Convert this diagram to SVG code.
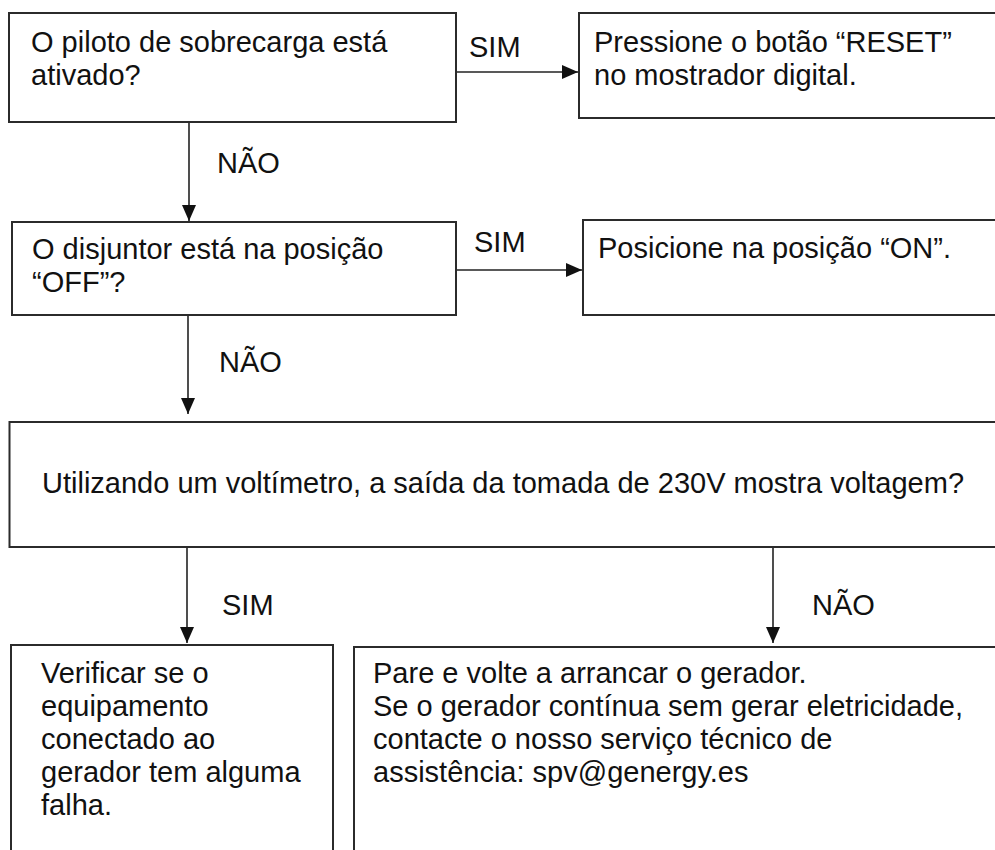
<svg xmlns="http://www.w3.org/2000/svg" width="995" height="850" viewBox="0 0 995 850">
<defs>
<style>
.box{fill:#fff;stroke:#2b2b2b;stroke-width:2}
.t{font-family:"Liberation Sans",Arial,sans-serif;font-size:29px;fill:#111}
.c{stroke:#222;stroke-width:1.6;fill:none}
</style>
<marker id="ah" viewBox="0 0 16 14" refX="16" refY="7" markerWidth="16" markerHeight="14" markerUnits="userSpaceOnUse" orient="auto">
<path d="M0,0 L16,7 L0,14 Z" fill="#111"/>
</marker>
</defs>
<rect width="995" height="850" fill="#fff"/>
<g id="connectors">
<line class="c" x1="456" y1="72" x2="578" y2="72" marker-end="url(#ah)"/>
<line class="c" x1="189" y1="123" x2="189" y2="221" marker-end="url(#ah)"/>
<line class="c" x1="457" y1="270" x2="582" y2="270" marker-end="url(#ah)"/>
<line class="c" x1="188" y1="316" x2="188" y2="414" marker-end="url(#ah)"/>
<line class="c" x1="187" y1="548" x2="187" y2="643" marker-end="url(#ah)"/>
<line class="c" x1="773" y1="548" x2="773" y2="643" marker-end="url(#ah)"/>
<text class="t" x="469" y="57">SIM</text>
<text class="t" x="217" y="173">NÃO</text>
<text class="t" x="474" y="252">SIM</text>
<text class="t" x="219" y="372">NÃO</text>
<text class="t" x="222" y="615">SIM</text>
<text class="t" x="812" y="615">NÃO</text>
</g>
<g id="n1">
<rect class="box" x="9" y="13" width="447" height="109"/>
<text class="t" x="31" y="52">O piloto de sobrecarga está</text>
<text class="t" x="31" y="85">ativado?</text>
</g>
<g id="n2">
<rect class="box" x="579" y="13" width="430" height="105"/>
<text class="t" x="594" y="52">Pressione o botão “RESET”</text>
<text class="t" x="594" y="85">no mostrador digital.</text>
</g>
<g id="n3">
<rect class="box" x="12" y="222" width="444" height="93"/>
<text class="t" x="32" y="259">O disjuntor está na posição</text>
<text class="t" x="32" y="292">“OFF”?</text>
</g>
<g id="n4">
<rect class="box" x="583" y="220" width="430" height="95"/>
<text class="t" x="598" y="258">Posicione na posição “ON”.</text>
</g>
<g id="n5">
<rect class="box" x="9.5" y="422" width="1000" height="125"/>
<text class="t" x="42" y="493">Utilizando um voltímetro, a saída da tomada de 230V mostra voltagem?</text>
</g>
<g id="n6">
<rect class="box" x="11" y="645" width="322" height="220"/>
<text class="t" x="41" y="683">Verificar se o</text>
<text class="t" x="41" y="716">equipamento</text>
<text class="t" x="41" y="749">conectado ao</text>
<text class="t" x="41" y="782">gerador tem alguma</text>
<text class="t" x="41" y="815">falha.</text>
</g>
<g id="n7">
<rect class="box" x="354" y="647" width="660" height="220"/>
<text class="t" x="373" y="683">Pare e volte a arrancar o gerador.</text>
<text class="t" x="373" y="716">Se o gerador contínua sem gerar eletricidade,</text>
<text class="t" x="373" y="749">contacte o nosso serviço técnico de</text>
<text class="t" x="373" y="782">assistência: spv@genergy.es</text>
</g>
</svg>
